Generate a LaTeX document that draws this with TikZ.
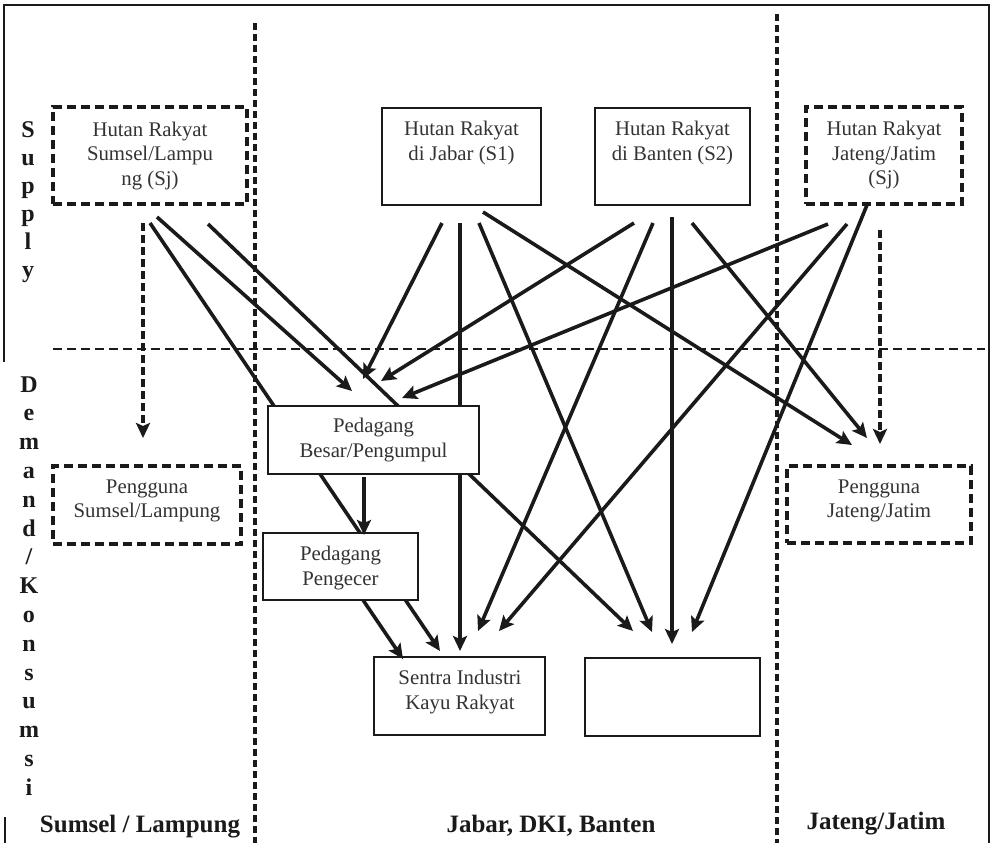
\documentclass[tikz,border=0pt]{standalone}
\usepackage{fontspec}
\setmainfont{Liberation Serif}
\usetikzlibrary{arrows.meta}
\definecolor{ink}{HTML}{1A1A1A}
\definecolor{txtgray}{HTML}{333333}
\begin{document}
\begin{tikzpicture}[x=0.5pt,y=-0.5pt,
 frame/.style={line width=1.1pt, draw=ink},
 divider/.style={line width=1.6pt, draw=ink, dash pattern=on 3.5pt off 2pt},
 hdivider/.style={line width=1.4pt, draw=ink, dash pattern=on 4.5pt off 2.5pt},
 box/.style={draw=ink, line width=1.1pt, fill=white, inner sep=0pt},
 dbox/.style={box, line width=1.6pt, dash pattern=on 4.5pt off 2.5pt},
 txt/.style={align=center, text=txtgray, font=\fontsize{10.4}{12.2}\selectfont, inner sep=0pt},
 lab/.style={text=ink, font=\fontsize{12.5}{14}\selectfont\bfseries, inner sep=0pt, anchor=base},
 vlab/.style={text=ink, font=\fontsize{12}{14}\selectfont\bfseries, inner sep=0pt, anchor=base},
 flow/.style={draw=ink, line width=1.8pt, -{Stealth[length=7.5pt,width=7pt,inset=1.5pt]}},
 dflow/.style={flow, dash pattern=on 4pt off 2pt},
]
\useasboundingbox (0,0) rectangle (992,843);

% frame and dividers
\draw[frame] (4,362) -- (4,5) -- (989,5) -- (989,843);
\draw[frame] (5,817) -- (5,843);
\draw[divider] (255,23) -- (255,843);
\draw[divider] (777,14) -- (777,843);
\draw[hdivider] (53,349) -- (985,349);

% connector end points
\coordinate (a1s) at (143,223); \coordinate (a1e) at (143,438);
\coordinate (a2s) at (150,223); \coordinate (a2e) at (440,651);
\coordinate (a3s) at (157,217); \coordinate (a3e) at (352,391);
\coordinate (a4s) at (208,224); \coordinate (a4e) at (633,631);
\coordinate (b1s) at (442,223); \coordinate (b1e) at (363,379);
\coordinate (b2s) at (460,223); \coordinate (b2e) at (460,651);
\coordinate (b3s) at (479,223); \coordinate (b3e) at (652,632);
\coordinate (b4s) at (483,212); \coordinate (b4e) at (852,445);
\coordinate (c1s) at (634,223); \coordinate (c1e) at (381,381);
\coordinate (c2s) at (653,223); \coordinate (c2e) at (478,631);
\coordinate (c3s) at (672,217); \coordinate (c3e) at (672,644);
\coordinate (c4s) at (692,223); \coordinate (c4e) at (867,438);
\coordinate (d1s) at (828,224); \coordinate (d1e) at (402,398);
\coordinate (d2s) at (847,224); \coordinate (d2e) at (499,631);
\coordinate (d3s) at (867,205); \coordinate (d3e) at (692,632);
\coordinate (d4s) at (880,230); \coordinate (d4e) at (880,444);
\coordinate (e1s) at (364,477); \coordinate (e1e) at (364,535);
\coordinate (f1s) at (363,600); \coordinate (f1e) at (403,659);

% connectors
\draw[dflow] (a1s) -- (a1e);
\draw[flow] (a2s) -- (a2e);
\draw[flow] (a3s) -- (a3e);
\draw[flow] (a4s) -- (a4e);
\draw[flow] (b1s) -- (b1e);
\draw[flow] (b2s) -- (b2e);
\draw[flow] (b3s) -- (b3e);
\draw[flow] (b4s) -- (b4e);
\draw[flow] (c1s) -- (c1e);
\draw[flow] (c2s) -- (c2e);
\draw[flow] (c3s) -- (c3e);
\draw[flow] (c4s) -- (c4e);
\draw[flow] (d1s) -- (d1e);
\draw[flow] (d2s) -- (d2e);
\draw[flow] (d3s) -- (d3e);
\draw[dflow] (d4s) -- (d4e);

% boxes
\node[dbox, minimum width=97pt, minimum height=48.5pt] (hrs) at (150,155.5) {};
\node[box, minimum width=79.5pt, minimum height=48.5pt] (hrj) at (461.5,156.5) {};
\node[box, minimum width=77.5pt, minimum height=48.5pt] (hrb) at (672.5,156.5) {};
\node[dbox, minimum width=78pt, minimum height=48.5pt] (hrt) at (884,155.5) {};
\node[box, minimum width=105.5pt, minimum height=34pt] (pb) at (373.5,440) {};
\node[dbox, minimum width=94pt, minimum height=39pt] (pgs) at (147,505) {};
\node[box, minimum width=77.5pt, minimum height=33.5pt] (pe) at (340.5,566.5) {};
\node[dbox, minimum width=92pt, minimum height=38.5pt] (pgt) at (879,504.5) {};
\node[box, minimum width=85.5pt, minimum height=39pt] (sik) at (459.5,696) {};
\node[box, minimum width=87.5pt, minimum height=39pt] (emp) at (672.5,697) {};

% connectors between lower boxes
\draw[flow] (e1s) -- (e1e);
\draw[flow] (f1s) -- (f1e);

% box texts
\node[txt] (hrs-t) at (150,156) {Hutan Rakyat\\Sumsel/Lampu\\ng (Sj)};
\node[txt] (hrj-t) at (461.5,143) {Hutan Rakyat\\di Jabar (S1)};
\node[txt] (hrb-t) at (672.5,143) {Hutan Rakyat\\di Banten (S2)};
\node[txt] (hrt-t) at (884,155) {Hutan Rakyat\\Jateng/Jatim\\(Sj)};
\node[txt] (pb-t) at (373.5,440) {Pedagang\\Besar/Pengumpul};
\node[txt] (pgs-t) at (147,501) {Pengguna\\Sumsel/Lampung};
\node[txt] (pe-t) at (340.5,568) {Pedagang\\Pengecer};
\node[txt] (pgt-t) at (879,501) {Pengguna\\Jateng/Jatim};
\node[txt] (sik-t) at (460,692) {Sentra Industri\\Kayu Rakyat};

% region labels
\node[lab] (l1) at (140,832) {Sumsel / Lampung};
\node[lab] (l2) at (551,832) {Jabar, DKI, Banten};
\node[lab] (l3) at (876,829) {Jateng/Jatim};

% vertical axis labels
\foreach \c [count=\i from 0] in {S,u,p,p,l,y}
  \node[vlab] (sup\i) at (28,{137+28*\i}) {\c};
\foreach \c [count=\i from 0] in {D,e,m,a,n,d,/,K,o,n,s,u,m,s,i}
  \node[vlab] (dem\i) at (29,{392+28.8*\i}) {\c};
\end{tikzpicture}
\end{document}
